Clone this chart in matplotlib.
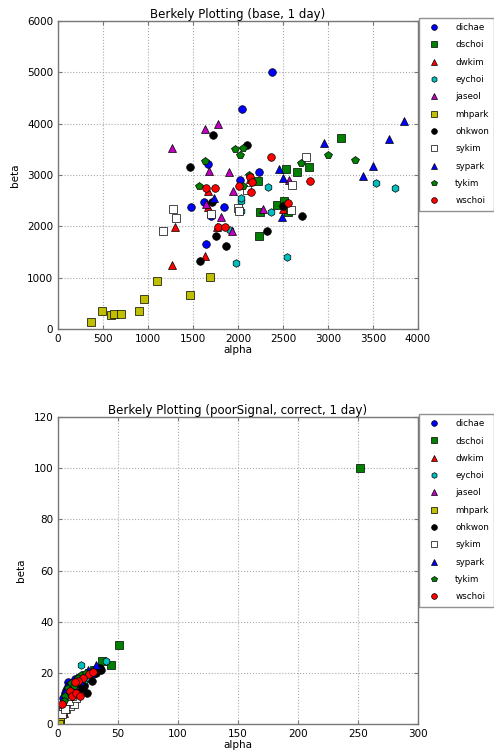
import matplotlib
matplotlib.use('Agg')
import matplotlib.pyplot as plt

names = ['dichae', 'dschoi', 'dwkim', 'eychoi', 'jaseol', 'mhpark',
         'ohkwon', 'sykim', 'sypark', 'tykim', 'wschoi']
styles = [('b', 'o'), ('g', 's'), ('r', '^'), ('c', 'h'), ('m', '^'), ('y', 's'),
          ('k', 'o'), ('w', 's'), ('b', '^'), ('g', 'p'), ('r', 'o')]

# base, 1 day  (alpha, beta)
base = {
    'dichae': [(2375, 5000), (2050, 4280), (1670, 3210), (2020, 2910), (2230, 3050),
               (1620, 2480), (1480, 2370), (1840, 2370), (1640, 1650), (1700, 2210)],
    'dschoi': [(3140, 3720), (2530, 3120), (2660, 3050), (2790, 3150), (2220, 2890),
               (2430, 2420), (2515, 2500), (2250, 2270), (2555, 2270), (2230, 1810)],
    'dwkim': [(1305, 1980), (1265, 1240), (1630, 1420), (1665, 2690), (1670, 2380),
              (1770, 1990), (2495, 2330), (2130, 2930)],
    'eychoi': [(3530, 2850), (3750, 2740), (2330, 2770), (2370, 2270), (2030, 2500),
               (2035, 2290), (2540, 1400), (1975, 1280), (1915, 1930), (2030, 2550)],
    'jaseol': [(1635, 3890), (1775, 3990), (1265, 3520), (1675, 3075), (1900, 3060),
               (1945, 2685), (2565, 2910), (2280, 2340), (1815, 2185), (1645, 2440),
               (1930, 1910)],
    'mhpark': [(365, 130), (490, 345), (585, 265), (620, 300), (700, 290),
               (900, 345), (955, 580), (1100, 940), (1470, 670), (1685, 1010)],
    'ohkwon': [(1725, 3780), (2105, 3580), (1465, 3150), (1715, 2475), (1760, 1815),
               (1870, 1625), (1575, 1330), (2320, 1905), (2495, 2390), (2710, 2210)],
    'sykim': [(1280, 2335), (1310, 2160), (1165, 1910), (1705, 2235), (2000, 2355),
              (2015, 2290), (2100, 2700), (2595, 2815), (2760, 3355), (2590, 2310)],
    'sypark': [(3850, 4060), (3675, 3705), (2960, 3625), (3500, 3185), (3390, 2990),
               (2455, 3115), (2495, 2940), (2490, 2180), (1730, 2550)],
    'tykim': [(3000, 3385), (3300, 3295), (2705, 3225), (1970, 3505), (2055, 3525),
              (2020, 3385), (1635, 3280), (1570, 2780), (2125, 3000), (2055, 2780)],
    'wschoi': [(2365, 3355), (2795, 2885), (2010, 2790), (2135, 2960), (2155, 2860),
               (2140, 2665), (1650, 2750), (1750, 2750), (1780, 1980), (1860, 1985),
               (2560, 2455)],
}

# poorSignal, correct, 1 day
poor = {
    'dichae': [(8, 16.5), (11, 15), (14, 17.5), (18, 18), (22, 19), (6, 12),
               (10, 13), (4, 10), (16, 14), (25, 20)],
    'dschoi': [(252, 100), (51, 31), (37, 24.5), (44, 23), (20, 18), (15, 16),
               (12, 14), (26, 20), (8, 12), (30, 21)],
    'dwkim': [(5, 4.5), (3, 7), (9, 11), (14, 13), (18, 15), (22, 17), (6, 9),
              (12, 12), (16, 16), (10, 10)],
    'eychoi': [(19, 23), (40, 24.5), (25, 18), (30, 21), (22, 16), (16, 14),
               (12, 15), (28, 19), (8, 13), (34, 22)],
    'jaseol': [(3, 6), (6, 8), (9, 10), (12, 13), (15, 15), (10, 14), (7, 11),
               (13, 16), (18, 17), (20, 15)],
    'mhpark': [(1.5, 0.3), (1, 0.5), (2, 0.8), (1.2, 0.2)],
    'ohkwon': [(35, 22), (36, 21), (24, 12), (20, 14), (17, 12), (13, 9),
               (11, 8), (28, 17), (32, 20), (22, 15)],
    'sykim': [(4, 5), (7, 6), (10, 7), (13, 8), (5, 8), (9, 9), (15, 10),
              (3, 4), (12, 11), (6, 6)],
    'sypark': [(32, 23), (25, 21), (20, 19), (15, 18), (10, 16), (7, 15),
               (18, 17), (13, 14), (28, 20), (6, 13)],
    'tykim': [(8, 14), (11, 16), (15, 17), (19, 19), (23, 20), (6, 11),
              (13, 15), (17, 18), (5, 9), (10, 12)],
    'wschoi': [(26, 19.5), (29, 20.3), (21, 18), (17, 17), (14, 16.5), (10, 13),
               (12, 11), (15, 12), (18, 11), (3, 8)],
}

fig = plt.figure(figsize=(4.94, 7.56), dpi=100)
ax1 = fig.add_axes([0.1174, 0.5648, 0.7287, 0.4074])
ax2 = fig.add_axes([0.1174, 0.0423, 0.7287, 0.4061])


def draw(ax, data, title, xlim, ylim, xticks, yticks):
    for name, (c, m) in zip(names, styles):
        pts = data[name]
        xs = [p[0] for p in pts]
        ys = [p[1] for p in pts]
        ax.plot(xs, ys, linestyle='none', marker=m, color=c, markersize=5.5,
                markeredgecolor='k', markeredgewidth=0.5, label=name)
    ax.set_xlim(xlim)
    ax.set_ylim(ylim)
    ax.set_xticks(xticks)
    ax.set_yticks(yticks)
    ax.grid(True, linestyle=':', color='#aaaaaa', linewidth=0.8)
    ax.set_title(title, fontsize=8.5, pad=2)
    ax.set_xlabel('alpha', fontsize=7.5, labelpad=1)
    ax.set_ylabel('beta', fontsize=7.5, labelpad=5)
    ax.tick_params(labelsize=7.5, direction='in', top=True, right=True,
                   length=3, color='#777777', pad=3.5)
    for s in ax.spines.values():
        s.set_color('#777777')
        s.set_linewidth(1.0)
    leg = ax.legend(loc='upper left', bbox_to_anchor=(1.004, 1.01), numpoints=1,
                    fontsize=6.3, frameon=True, fancybox=False, borderpad=0.6,
                    labelspacing=0.95, handletextpad=1.3, handlelength=2.2,
                    borderaxespad=0, markerscale=0.75)
    leg.get_frame().set_edgecolor('#777777')
    leg.get_frame().set_linewidth(1.0)


draw(ax1, base, 'Berkely Plotting (base, 1 day)', (0, 4000), (0, 6000),
     range(0, 4001, 500), range(0, 6001, 1000))
draw(ax2, poor, 'Berkely Plotting (poorSignal, correct, 1 day)', (0, 300), (0, 120),
     range(0, 301, 50), range(0, 121, 20))

fig.savefig('out.png', dpi=100)
